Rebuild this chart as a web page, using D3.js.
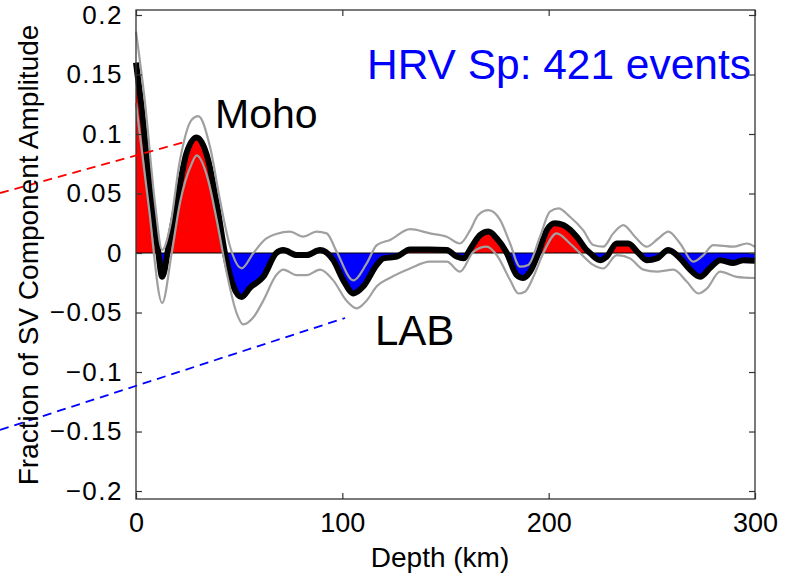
<!DOCTYPE html>
<html>
<head>
<meta charset="utf-8">
<script src="https://cdn.jsdelivr.net/npm/d3@7"></script>
<style>
  body { margin: 0; background: #fff; }
  text { font-family: "Liberation Sans", Arial, sans-serif; }
</style>
</head>
<body>
<script>
// mean SV amplitude vs depth (km) -- [depth, value]
var meanTrace = [
  [0, 0.160], [2.5, 0.126], [7.6, 0.042], [10.5, 0.005], [12.7, -0.020], [16, 0.008],
  [19.7, 0.042], [24.5, 0.084], [29.4, 0.097], [35, 0.078], [39.1, 0.042], [43.1, 0],
  [47.2, -0.028], [51.2, -0.037], [55.3, -0.029], [61.7, -0.020], [68, 0], [71.4, 0.0025],
  [77.9, -0.0017], [82.7, -0.0017], [89.2, 0.0025], [95.6, -0.006], [100.5, -0.023],
  [105.4, -0.034], [110.2, -0.028], [116.7, -0.010], [119.9, -0.0045], [126.4, -0.003],
  [132.8, 0.003], [142, 0.003], [150.6, 0.0025], [155.4, -0.003], [158.6, -0.0045],
  [162.7, 0.0053], [166.7, 0.015], [170.8, 0.018], [174.8, 0.0124], [179.7, 0],
  [184.5, -0.0185], [187.7, -0.021], [191, -0.0157], [195, 0], [199, 0.019], [203, 0.025],
  [207.1, 0.0235], [213.6, 0.0137], [218.4, 0.0025], [220, 0], [224.9, -0.006],
  [228.1, -0.003], [233, 0.008], [238.6, 0.008], [243.5, 0], [247.5, -0.006],
  [252.4, -0.0045], [258, 0.0025], [263.7, -0.0045], [268.5, -0.014], [273.4, -0.020],
  [278.2, -0.0126], [283.1, -0.006], [289.5, -0.0084], [294.4, -0.006], [300, -0.0065]
];

// upper bound (grey)
var upperTrace = [
  [0, 0.186], [4.4, 0.126], [9.2, 0.042], [12.7, 0.0025], [16.5, 0.022], [21.3, 0.078],
  [27, 0.112], [30.2, 0.115], [35.9, 0.089], [40.7, 0.0445], [45.6, 0.0053], [51.2, -0.0129],
  [56.9, 0], [63, 0.012], [68, 0.016], [74.6, 0.018], [81, 0.0137], [87.6, 0.018],
  [92.4, 0.0165], [97.3, 0.001], [105.3, -0.023], [111.8, -0.0087], [116.7, 0.0067],
  [123.1, 0.011], [132.8, 0.020], [142.5, 0.0165], [150.6, 0.0137], [157, 0.008],
  [161.9, 0.019], [165.9, 0.032], [170.8, 0.036], [176.4, 0.028], [181.3, 0.008],
  [186.1, -0.0115], [190.1, -0.010], [195.8, 0.0137], [200.6, 0.0347], [204.7, 0.0375],
  [210.3, 0.0305], [216.8, 0.019], [221.6, 0.0067], [226.5, 0.0053], [231.3, 0.0165],
  [236.2, 0.0235], [241.8, 0.0137], [247.5, 0.0053], [253, 0.012], [258, 0.018],
  [263.7, 0.008], [270.1, -0.0073], [275, -0.0017], [279.8, 0.0067], [289.5, 0.0053],
  [296, 0.008], [300, 0.0053]
];

// lower bound (grey)
var lowerTrace = [
  [0, 0.126], [6, 0.042], [12.7, -0.042], [17.3, 0], [21.3, 0.042], [27, 0.075],
  [29.4, 0.082], [35, 0.061], [39.1, 0.028], [44, -0.017], [48.8, -0.0507], [52, -0.060],
  [56.9, -0.054], [61.7, -0.040], [68, -0.0185], [71.4, -0.014], [77.9, -0.0185],
  [82.7, -0.0185], [89.2, -0.014], [95.6, -0.023], [102, -0.040], [107, -0.0465],
  [111.8, -0.040], [116.7, -0.028], [123, -0.021], [132.8, -0.013], [142.5, -0.0073],
  [150.6, -0.0073], [157, -0.0157], [163.5, 0.001], [170, 0.0053], [174.8, -0.0017],
  [181.3, -0.0227], [185.3, -0.034], [188.5, -0.0325], [192.6, -0.020], [197.4, 0],
  [203.9, 0.0165], [210.3, 0.008], [215.2, 0], [221.6, -0.010], [226.5, -0.013],
  [233, -0.0017], [239.4, -0.0045], [245.9, -0.014], [252.4, -0.0157], [260.5, -0.014],
  [266.9, -0.024], [272.6, -0.034], [276.6, -0.030], [283.1, -0.0157], [291.1, -0.020],
  [300, -0.021]
];

// dashed pointer lines (data coords, run off the left of the axes)
var mohoPointer = [[-65.9, 0.0504], [25.2, 0.0941]];
var labPointer = [[-65.9, -0.1487], [101.3, -0.0546]];

var xTicks = [0, 100, 200, 300];
var yTicks = [0.2, 0.15, 0.1, 0.05, 0, -0.05, -0.1, -0.15, -0.2];

var width = 798, height = 579;
var plotL = 136, plotR = 755, plotT = 10, plotB = 499;

var x = d3.scaleLinear().domain([0, 300]).range([plotL, plotR]);
var y = d3.scaleLinear().domain([-0.2067, 0.2042]).range([plotB, plotT]);

var svg = d3.select("body").append("svg")
    .attr("width", width)
    .attr("height", height);

// clip regions for the red (positive) and blue (negative) fill
var defs = svg.append("defs");
defs.append("clipPath").attr("id", "above")
  .append("rect").attr("x", plotL).attr("y", plotT)
    .attr("width", plotR - plotL).attr("height", y(0) - plotT);
defs.append("clipPath").attr("id", "below")
  .append("rect").attr("x", plotL).attr("y", y(0))
    .attr("width", plotR - plotL).attr("height", plotB - y(0));

var curve = d3.curveMonotoneX;

var area = d3.area()
    .x(function(d){ return x(d[0]); })
    .y0(y(0))
    .y1(function(d){ return y(d[1]); })
    .curve(curve);

var line = d3.line()
    .x(function(d){ return x(d[0]); })
    .y(function(d){ return y(d[1]); })
    .curve(curve);

svg.append("path").datum(meanTrace)
    .attr("d", area).attr("fill", "#ff0000").attr("clip-path", "url(#above)");
svg.append("path").datum(meanTrace)
    .attr("d", area).attr("fill", "#0000ff").attr("clip-path", "url(#below)");

// zero line
svg.append("line")
    .attr("x1", x(0)).attr("x2", x(300))
    .attr("y1", y(0)).attr("y2", y(0))
    .attr("stroke", "#000").attr("stroke-width", 1);

// mean trace
svg.append("path").datum(meanTrace)
    .attr("d", line).attr("fill", "none")
    .attr("stroke", "#000").attr("stroke-width", 6)
    .attr("stroke-linejoin", "round");

// bounds
[upperTrace, lowerTrace].forEach(function(tr){
  svg.append("path").datum(tr)
    .attr("d", line).attr("fill", "none")
    .attr("stroke", "#a0a0a0").attr("stroke-width", 2.2);
});

// axes
var yAxisL = d3.axisLeft(y).tickValues(yTicks).tickSize(-6).tickPadding(13)
    .tickFormat(function(d){ return d === 0 ? "0" : d3.format(".2~f")(d); });
var yAxisR = d3.axisRight(y).tickValues(yTicks).tickSize(-6).tickFormat("");
var xAxisB = d3.axisBottom(x).tickValues(xTicks).tickSize(-6).tickPadding(14);
var xAxisT = d3.axisTop(x).tickValues(xTicks).tickSize(-6).tickFormat("");

function styleAxis(g){
  g.select(".domain").remove();
  g.selectAll(".tick line").attr("stroke", "#333").attr("stroke-width", 1.2);
  g.selectAll("text").attr("fill", "#000").style("font-family", '"Liberation Sans", Arial, sans-serif');
}

svg.append("g").attr("transform", "translate(" + plotL + ",0)").call(yAxisL).call(styleAxis)
  .selectAll("text").style("font-size", "26px").style("letter-spacing", "1.5px");
svg.append("g").attr("transform", "translate(" + plotR + ",0)").call(yAxisR).call(styleAxis);
svg.append("g").attr("transform", "translate(0," + plotB + ")").call(xAxisB).call(styleAxis)
  .selectAll("text").style("font-size", "27px");
svg.append("g").attr("transform", "translate(0," + plotT + ")").call(xAxisT).call(styleAxis);

// box
svg.append("rect")
    .attr("x", plotL).attr("y", plotT)
    .attr("width", plotR - plotL).attr("height", plotB - plotT)
    .attr("fill", "none").attr("stroke", "#333").attr("stroke-width", 1.3);

// pointer lines
var pline = d3.line().x(function(d){ return x(d[0]); }).y(function(d){ return y(d[1]); });
svg.append("path").datum(mohoPointer).attr("d", pline)
    .attr("stroke", "#ff0000").attr("stroke-width", 1.8)
    .attr("stroke-dasharray", "9,6").attr("fill", "none");
svg.append("path").datum(labPointer).attr("d", pline)
    .attr("stroke", "#0000ff").attr("stroke-width", 1.8)
    .attr("stroke-dasharray", "9,6").attr("fill", "none");

// labels
svg.append("text").attr("x", 215).attr("y", 128)
    .style("font-size", "41px").attr("fill", "#000").text("Moho");
svg.append("text").attr("x", 375).attr("y", 345)
    .style("font-size", "42px").attr("fill", "#000").text("LAB");
svg.append("text").attr("x", 367).attr("y", 79)
    .style("font-size", "42px").attr("fill", "#0000ff")
    .attr("textLength", 384).attr("lengthAdjust", "spacingAndGlyphs")
    .text("HRV Sp: 421 events");

svg.append("text")
    .attr("x", 440).attr("y", 567)
    .attr("text-anchor", "middle")
    .style("font-size", "28px").attr("fill", "#000")
    .text("Depth (km)");

svg.append("text")
    .attr("transform", "translate(38,255) rotate(-90)")
    .attr("text-anchor", "middle")
    .style("font-size", "28px").attr("fill", "#000")
    .text("Fraction of SV Component Amplitude");
</script>
</body>
</html>
